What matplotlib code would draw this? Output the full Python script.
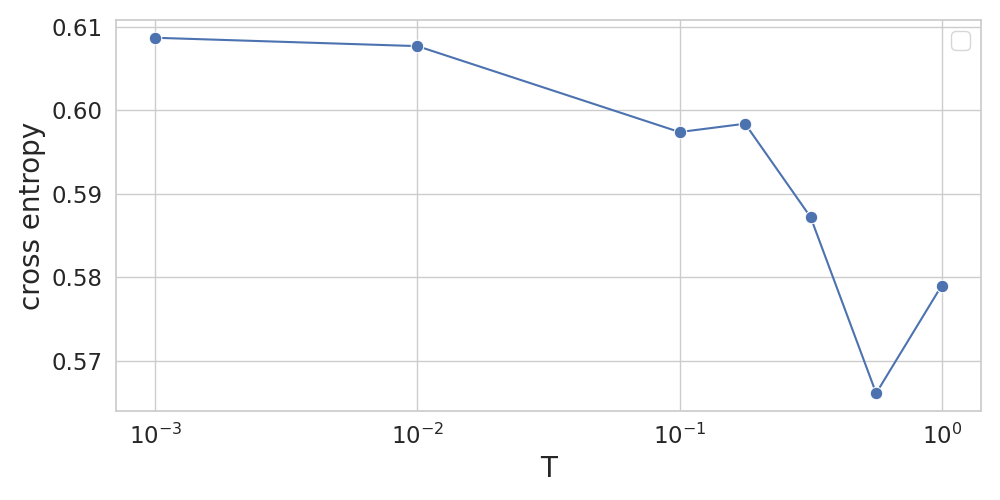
import matplotlib
matplotlib.use("Agg")
import matplotlib.pyplot as plt
import seaborn as sns
import numpy as np

T = [0.001, 0.01, 0.1, 0.1778, 0.3162, 0.5623, 1.0]
cross_entropy = [0.6087, 0.6077, 0.5974, 0.5984, 0.5872, 0.5661, 0.5790]

sns.set_theme(style="whitegrid", font_scale=1.5)
fig, ax = plt.subplots(figsize=(10, 5), dpi=100)
sns.lineplot(x=T, y=cross_entropy, marker="o", markersize=9, ax=ax)
ax.set_xscale("log")
ax.set_xlabel("T", fontsize=20)
ax.set_ylabel("cross entropy", fontsize=20)
ax.set_yticks([0.57, 0.58, 0.59, 0.60, 0.61])
ax.set_yticklabels(["0.57", "0.58", "0.59", "0.60", "0.61"])
ax.legend()
fig.subplots_adjust(left=0.116, right=0.981, top=0.96, bottom=0.178)
fig.savefig("out.png")
